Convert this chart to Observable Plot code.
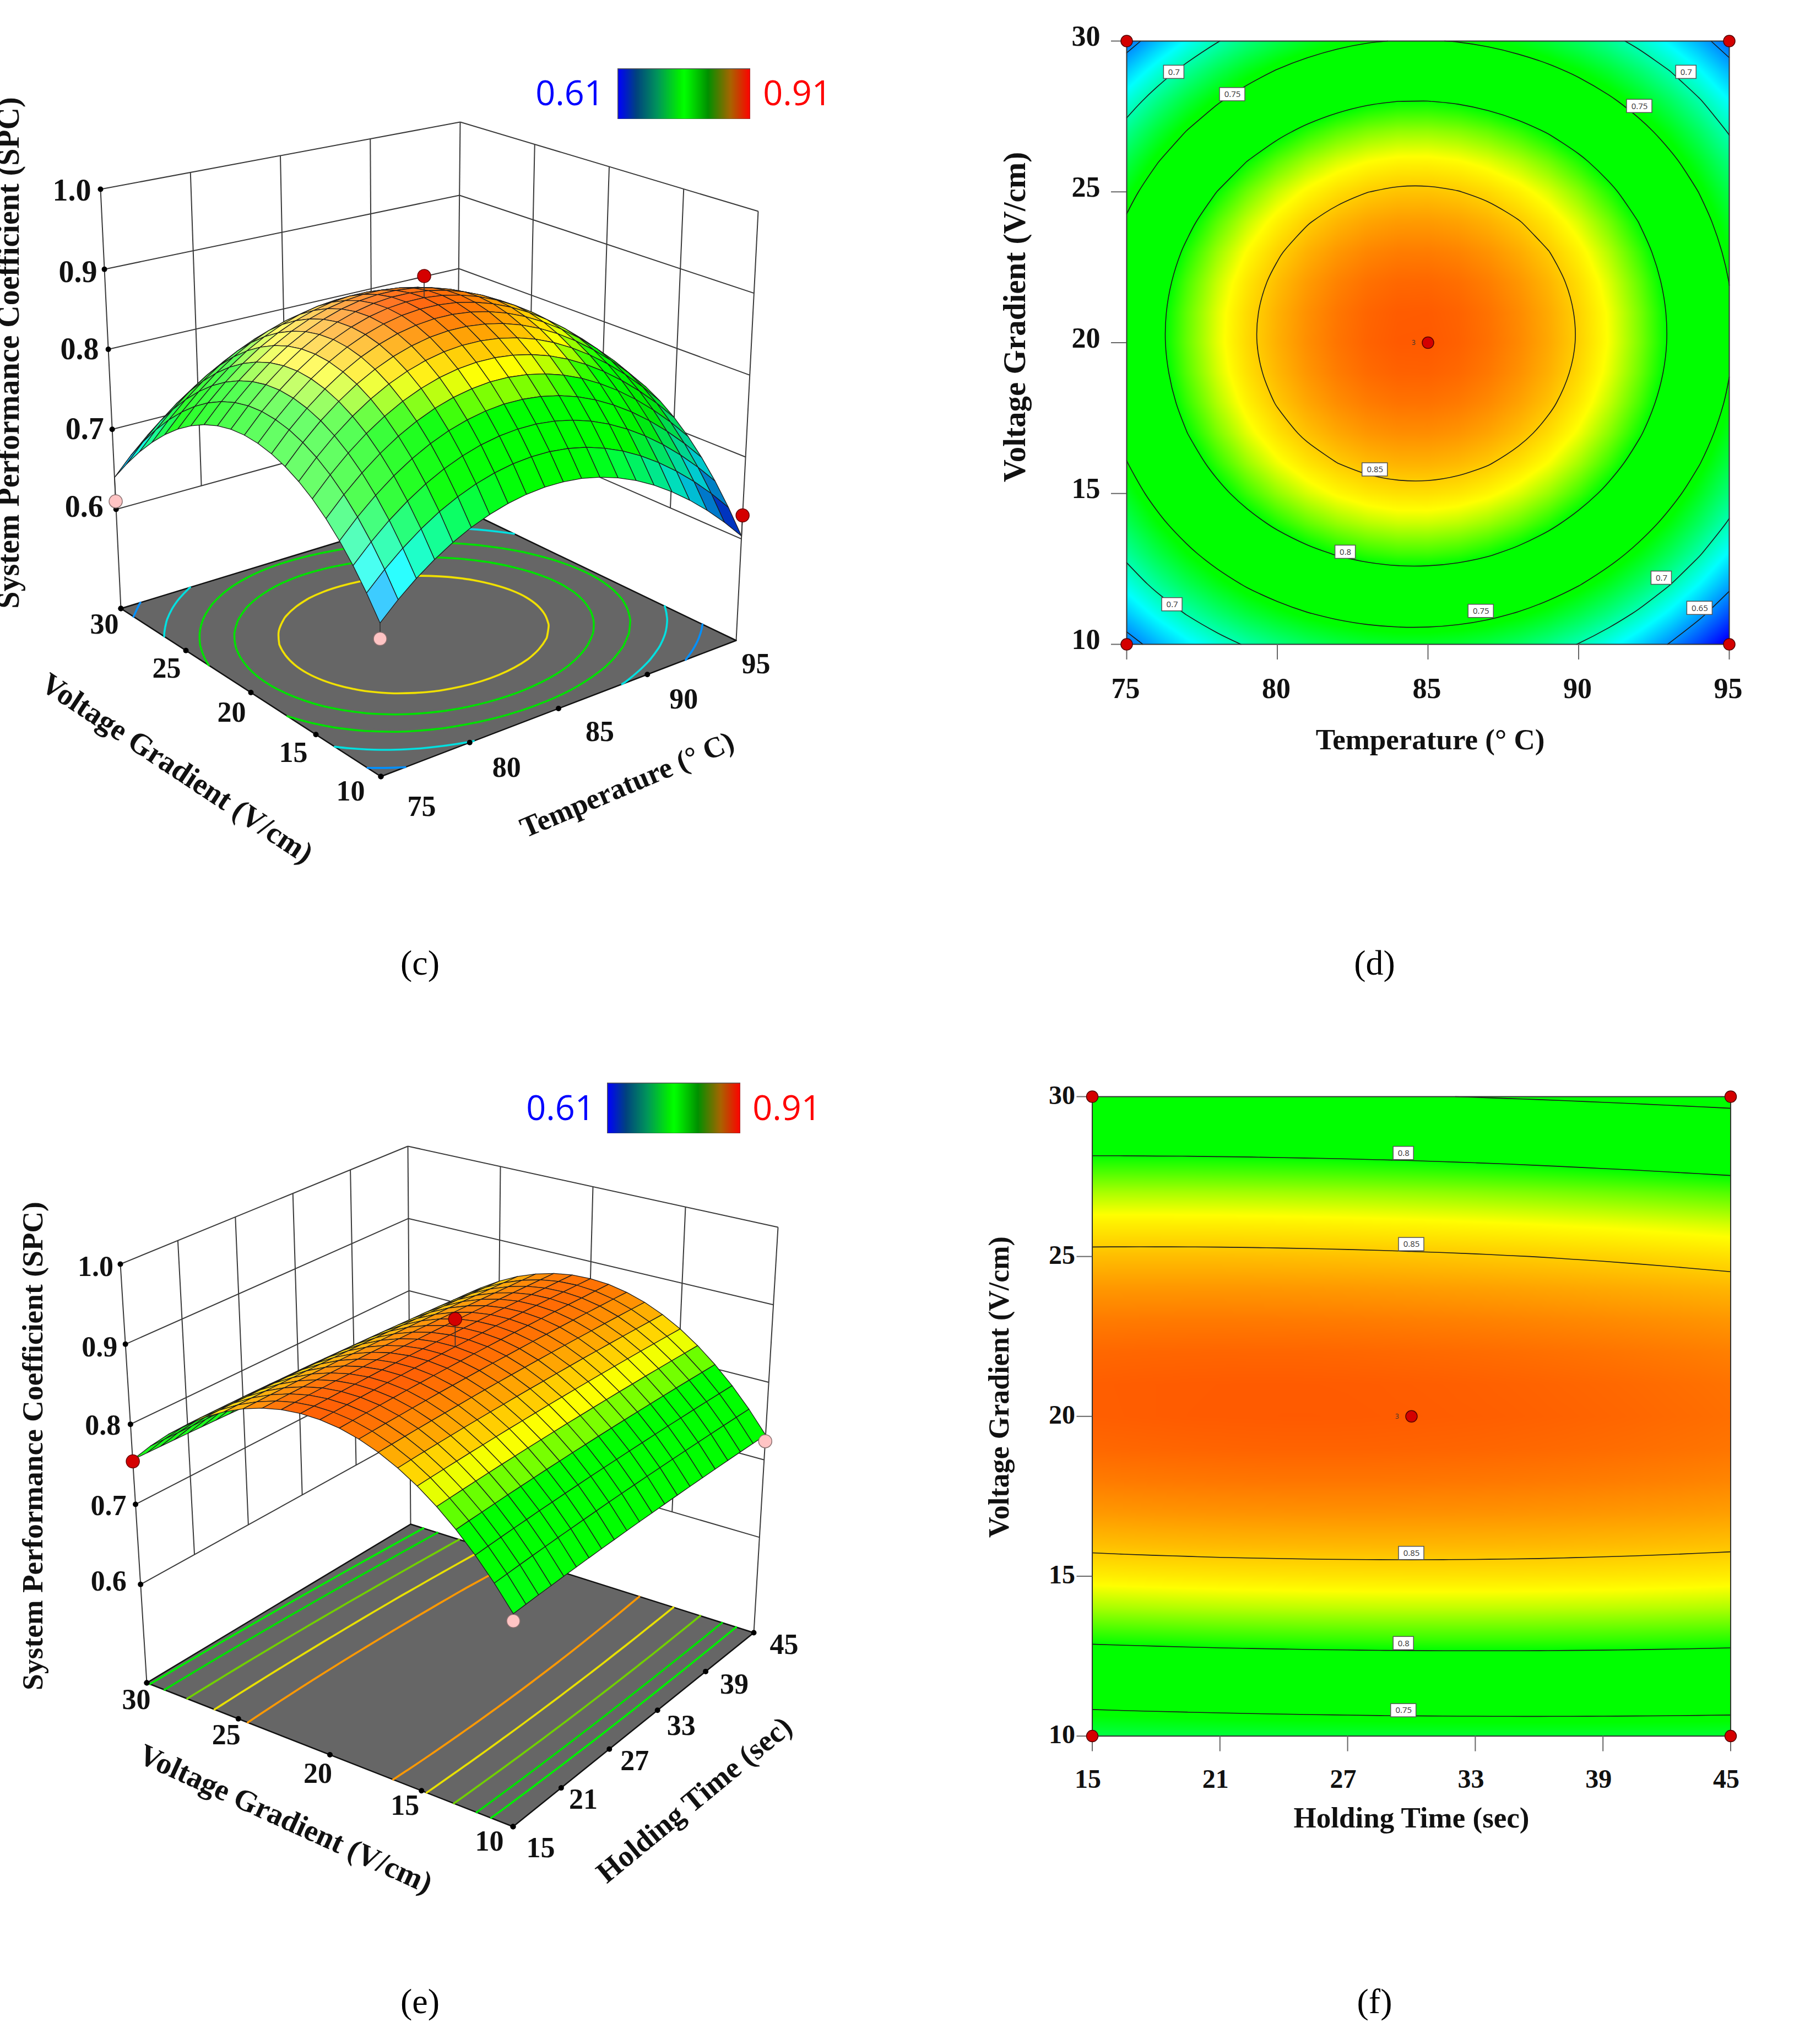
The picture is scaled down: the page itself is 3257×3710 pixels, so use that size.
<!DOCTYPE html>
<html><head><meta charset="utf-8">
<script src="https://cdn.jsdelivr.net/npm/d3@7"></script>
<script src="https://cdn.jsdelivr.net/npm/@observablehq/plot@0.6"></script>
<style>html,body{margin:0;background:#fff}#page{position:relative;width:3257px;height:3710px;overflow:hidden}.slot{position:absolute}</style>
</head><body><div id="page"></div>
<script>
// SPC, in units of 0.0001. Rows: voltage gradient 10..30 V/cm. Columns: temperature 75..95 C.
const spcTemperature = [
[6399,6587,6754,6900,7026,7131,7214,7277,7320,7342,7342,7320,7274,7204,7110,6991,6848,6681,6490,6275,6035],
[6643,6837,7009,7160,7291,7398,7485,7550,7595,7617,7618,7596,7550,7480,7386,7267,7124,6957,6766,6551,6311],
[6863,7062,7240,7395,7529,7640,7729,7797,7842,7866,7867,7845,7799,7729,7635,7516,7373,7206,7015,6800,6560],
[7057,7261,7443,7603,7740,7854,7945,8014,8061,8086,8087,8065,8019,7949,7855,7736,7593,7426,7235,7020,6780],
[7226,7435,7620,7783,7923,8039,8133,8204,8251,8277,8278,8256,8210,8140,8046,7927,7784,7617,7426,7211,6971],
[7372,7583,7772,7938,8080,8199,8294,8366,8415,8440,8442,8420,8374,8304,8210,8091,7948,7781,7590,7375,7135],
[7491,7706,7897,8065,8210,8330,8426,8499,8549,8575,8577,8555,8509,8439,8345,8226,8083,7916,7725,7510,7270],
[7586,7803,7997,8166,8313,8434,8531,8605,8656,8682,8684,8662,8616,8546,8452,8333,8190,8023,7832,7617,7377],
[7657,7876,8070,8241,8388,8511,8609,8684,8734,8761,8763,8741,8695,8625,8531,8412,8269,8102,7911,7696,7456],
[7703,7922,8118,8290,8438,8560,8659,8734,8785,8812,8814,8792,8746,8676,8582,8463,8320,8153,7962,7747,7507],
[7724,7944,8140,8312,8460,8583,8682,8757,8808,8835,8837,8815,8769,8699,8605,8486,8343,8176,7985,7770,7530],
[7718,7938,8134,8306,8454,8577,8676,8751,8802,8829,8831,8809,8763,8693,8599,8480,8338,8171,7980,7765,7526],
[7684,7904,8100,8272,8420,8543,8642,8717,8768,8795,8797,8775,8729,8660,8566,8448,8305,8139,7949,7736,7497],
[7622,7842,8038,8210,8358,8481,8580,8655,8706,8733,8735,8713,8668,8598,8505,8388,8247,8081,7893,7680,7443],
[7532,7752,7948,8120,8268,8391,8490,8565,8616,8643,8645,8623,8578,8509,8417,8301,8161,7997,7810,7600,7365],
[7414,7634,7830,8002,8150,8273,8372,8447,8498,8525,8527,8505,8461,8393,8302,8187,8048,7887,7702,7494,7263],
[7267,7487,7683,7855,8003,8126,8225,8300,8351,8378,8380,8359,8314,8248,8158,8044,7908,7749,7567,7363,7134],
[7092,7312,7508,7680,7828,7951,8050,8125,8176,8203,8205,8184,8140,8074,7986,7875,7741,7585,7406,7205,6981],
[6889,7109,7305,7477,7625,7748,7847,7922,7973,8000,8002,7981,7938,7874,7787,7678,7547,7394,7220,7023,6804],
[6658,6878,7074,7246,7394,7517,7616,7691,7742,7769,7771,7750,7709,7645,7561,7454,7327,7177,7007,6816,6602],
[6398,6618,6814,6986,7134,7257,7356,7431,7482,7509,7511,7491,7450,7388,7306,7203,7078,6933,6768,6582,6374]];
// Rows: voltage gradient 10..30 V/cm. Columns: holding time 15..45 s in steps of 1.5 s.
const spcHolding = [
[7265,7274,7282,7289,7296,7302,7308,7313,7317,7321,7324,7326,7328,7329,7330,7330,7329,7328,7326,7323,7320],
[7548,7557,7564,7571,7577,7583,7588,7592,7596,7600,7602,7604,7605,7606,7606,7605,7604,7602,7600,7597,7593],
[7802,7810,7817,7824,7829,7835,7839,7843,7846,7849,7851,7852,7853,7853,7853,7852,7850,7848,7845,7841,7837],
[8029,8036,8042,8048,8054,8058,8062,8066,8068,8071,8072,8073,8073,8073,8072,8070,8068,8065,8061,8057,8052],
[8227,8233,8239,8245,8250,8254,8257,8260,8262,8264,8265,8265,8265,8264,8263,8260,8258,8254,8250,8245,8240],
[8397,8403,8408,8413,8418,8421,8424,8427,8428,8429,8430,8430,8429,8428,8426,8423,8420,8416,8411,8406,8400],
[8538,8544,8549,8553,8557,8560,8562,8564,8565,8566,8566,8565,8564,8562,8560,8556,8552,8548,8543,8537,8531],
[8651,8656,8661,8665,8668,8670,8672,8674,8675,8675,8674,8673,8671,8669,8665,8662,8657,8652,8647,8641,8634],
[8736,8741,8745,8748,8751,8753,8755,8755,8755,8755,8754,8752,8750,8747,8743,8739,8734,8729,8723,8716,8708],
[8794,8798,8801,8804,8806,8808,8809,8809,8809,8808,8806,8804,8801,8797,8793,8788,8783,8777,8770,8763,8755],
[8822,8825,8828,8831,8832,8833,8834,8834,8833,8831,8829,8826,8823,8819,8814,8809,8803,8797,8789,8782,8773],
[8823,8826,8828,8830,8831,8832,8832,8831,8830,8828,8825,8822,8818,8813,8808,8802,8796,8789,8781,8773,8764],
[8795,8798,8800,8801,8802,8801,8801,8800,8798,8795,8792,8788,8784,8779,8773,8767,8760,8752,8744,8735,8726],
[8738,8740,8742,8743,8743,8742,8741,8739,8737,8734,8730,8726,8721,8715,8709,8702,8695,8687,8678,8669,8659],
[8655,8656,8657,8657,8657,8656,8654,8652,8649,8645,8641,8636,8631,8625,8618,8611,8603,8594,8585,8575,8565],
[8542,8543,8543,8543,8542,8540,8538,8535,8532,8528,8523,8518,8512,8505,8498,8490,8482,8473,8463,8452,8441],
[8401,8401,8401,8400,8399,8397,8394,8391,8387,8382,8377,8371,8365,8358,8350,8341,8333,8323,8313,8302,8290],
[8232,8232,8231,8230,8228,8225,8222,8218,8214,8209,8203,8197,8190,8182,8174,8165,8155,8145,8134,8123,8111],
[8034,8034,8032,8031,8028,8025,8021,8017,8012,8006,8000,7993,7986,7978,7969,7959,7949,7939,7927,7915,7903],
[7809,7808,7806,7804,7801,7798,7793,7788,7783,7777,7770,7763,7755,7746,7737,7727,7716,7705,7693,7681,7668],
[7556,7554,7552,7549,7545,7541,7536,7531,7525,7518,7511,7503,7495,7485,7476,7465,7454,7442,7430,7417,7404]];

const colorDomain = [0.61, 0.68, 0.745, 0.80, 0.835, 0.91];
const colorRange = ["#0000ff", "#00ffff", "#00ff00", "#00ff00", "#ffff00", "#ff0000"];
const legendStops = [0, 0.14, 0.30, 0.47, 0.50, 0.53, 0.68, 0.85, 1];
const legendColors = ["#0000ff", "#00427f", "#00965a", "#00f000", "#00ff00", "#00f000", "#009000", "#a86400", "#ff0000"];

const voltageTicks = [10, 15, 20, 25, 30];
const temperatureTicks = [75, 80, 85, 90, 95];
const holdingTicks = [15, 21, 27, 33, 39, 45];
const spcTicks = [0.6, 0.7, 0.8, 0.9, 1.0];

const contourLabelsD = [
  {x:76.57,y:28.97,t:"0.7"},{x:78.51,y:28.23,t:"0.75"},{x:93.57,y:28.97,t:"0.7"},{x:92.02,y:27.84,t:"0.75"},
  {x:83.24,y:15.79,t:"0.85"},{x:82.26,y:13.06,t:"0.8"},{x:92.75,y:12.2,t:"0.7"},{x:94.02,y:11.2,t:"0.65"},
  {x:86.76,y:11.1,t:"0.75"},{x:76.51,y:11.32,t:"0.7"}];
const contourLabelsF = [
  {x:29.63,y:28.23,t:"0.8"},{x:30,y:25.38,t:"0.85"},{x:30,y:15.72,t:"0.85"},{x:29.63,y:12.9,t:"0.8"},{x:29.63,y:10.8,t:"0.75"}];

const serif = "Liberation Serif";
const colorOptions = {type:"linear", domain:colorDomain, range:colorRange, interpolate:"rgb"};
const colorScale = Plot.scale({color:colorOptions});
const page = document.getElementById("page");
function place(svg, left, top){const d=document.createElement("div");d.className="slot";d.style.left=left+"px";d.style.top=top+"px";d.appendChild(svg);page.appendChild(d);}

function contourRuns(table, thresholds){
  const n = table.length, out = [];
  const contours = d3.contours().size([n,n]).thresholds(thresholds).smooth(true)(table.flat().map(v=>v/1e4));
  let run = 0;
  const e = 1e-9;
  const outside = p => p[0]<.5-e||p[0]>n-.5+e||p[1]<.5-e||p[1]>n-.5+e;
  const emit = (p,value)=>{out.push({u:(p[0]-.5)/(n-1),v:(p[1]-.5)/(n-1),value,run});};
  for(const c of contours) for(const poly of c.coordinates) for(const ringRaw of poly){
    let ring = ringRaw.slice(0,-1);
    const s = ring.findIndex(outside);
    if(s<0){ for(const p of ringRaw) emit(p,c.value); run++; continue; }
    ring = ring.slice(s).concat(ring.slice(0,s));
    let current = [];
    for(let i=0;i<=ring.length;i++){
      const p = ring[i%ring.length];
      if(outside(p)){
        if(current.length>1){ current.forEach(q=>emit(q,c.value)); run++; }
        current=[];
      } else current.push(p);
    }
  }
  return out;
}

// box view: the eight box corners, blended along the three axes
function boxView(corners, xr, yr, zr){
  const mix=(a,b,t)=>[a[0]+(b[0]-a[0])*t,a[1]+(b[1]-a[1])*t];
  return (x,y,z)=>{
    const u=(x-xr[0])/(xr[1]-xr[0]),v=(y-yr[0])/(yr[1]-yr[0]),w=(z-zr[0])/(zr[1]-zr[0]);
    const level=k=>mix(mix(corners[k][0],corners[k][1],u),mix(corners[k][3],corners[k][2],u),v);
    return mix(level(0),level(1),w);
  };
}

function surfacePanel(cfg){
  const {table,xTicks,xr,yr,floorZ} = cfg;
  const n=table.length;
  const P=boxView(cfg.corners,xr,yr,[floorZ,1]);
  const xAt=i=>xr[0]+(xr[1]-xr[0])*i/(n-1), yAt=j=>yr[0]+(yr[1]-yr[0])*j/(n-1);
  const zAt=(x,y)=>table[Math.round((y-yr[0])/(yr[1]-yr[0])*(n-1))][Math.round((x-xr[0])/(xr[1]-xr[0])*(n-1))]/1e4;
  const quads=[];let q=0;
  for(let i=n-2;i>=0;i--)for(let j=n-2;j>=0;j--){
    const a=table[j][i]/1e4,b=table[j][i+1]/1e4,c=table[j+1][i+1]/1e4,d=table[j+1][i]/1e4;
    const gu=((b+c)-(a+d))/2*(n-1)/2, gv=((c+d)-(a+b))/2*(n-1)/2;
    const s=.7*gu-.35*gv;
    const white=cfg.gloss*Math.exp(-Math.pow((s-.115)/.09,2));
    const black=Math.max(0,-s-.16)*2.4;
    let col=colorScale.apply((a+b+c+d)/4);
    col=d3.interpolateRgb(col,"#ffffff")(white);
    col=d3.interpolateRgb(col,"#000000")(Math.min(.5,black));
    for(const [ii,jj,z] of [[i,j,a],[i+1,j,b],[i+1,j+1,c],[i,j+1,d],[i,j,a]]){
      const p=P(xAt(ii),yAt(jj),z);quads.push({px:p[0],py:p[1],q,col});
    }
    q++;
  }
  const seg=(a,b)=>{const p=P(...a),r=P(...b);return {x1:p[0],y1:p[1],x2:r[0],y2:r[1]};};
  const [x0,x1]=xr,[y0,y1]=yr;
  const midX=xTicks.filter(t=>t!==x0&&t!==x1), midY=voltageTicks.filter(t=>t!==y0&&t!==y1);
  const walls=[
    ...spcTicks.flatMap(z=>[seg([x0,y1,z],[x1,y1,z]),seg([x1,y1,z],[x1,y0,z])]),
    ...midX.map(x=>seg([x,y1,1],[x,y1,.6])),
    ...midY.map(y=>seg([x1,y,1],[x1,y,.6])),
    seg([x0,y1,1],[x0,y1,floorZ]),seg([x1,y1,1],[x1,y1,floorZ]),seg([x1,y0,1],[x1,y0,floorZ])];
  const floor=[[x0,y0],[x1,y0],[x1,y1],[x0,y1],[x0,y0]].map(([a,b])=>{const p=P(a,b,floorZ);return {px:p[0],py:p[1]};});
  const floorLines=contourRuns(table,cfg.floorLevels).map(d=>{
    const p=P(x0+d.u*(x1-x0),y0+d.v*(y1-y0),floorZ);
    return {px:p[0],py:p[1],run:d.run,col:cfg.floorColors[cfg.floorLevels.indexOf(d.value)]};});
  const dots=[
    ...spcTicks.map(z=>P(x0,y1,z)),P(x0,y1,floorZ),
    ...voltageTicks.map(v=>P(x0,v,floorZ)),
    ...cfg.xDots.map(t=>P(t,y0,floorZ))].map(p=>({px:p[0],py:p[1]}));
  const tick=(p,o,t)=>({px:p[0]+o[0],py:p[1]+o[1],t});
  const zLabels=spcTicks.map((z,i)=>tick(P(x0,y1,z),cfg.zOff[i],z.toFixed(1)));
  const labels=[
    ...voltageTicks.map((v,i)=>tick(P(x0,v,floorZ),cfg.vOff[i],String(v))),
    ...xTicks.map((t,i)=>tick(P(t,y0,floorZ),cfg.xOff[i],String(t)))];
  const pts=cfg.points.map(d=>{const p=P(d.x,d.y,d.z),s=P(d.x,d.y,zAt(d.x,d.y));return {px:p[0],py:p[1],sx:s[0],sy:s[1],fill:d.fill,stroke:d.stroke};});
  const W=3257,H=cfg.h,T=cfg.top;
  const titles=cfg.titles.map(d=>Plot.text([d],{x:"x",y:"y",text:"t",rotate:d.r,fontFamily:serif,fontWeight:"bold",fontSize:d.s,textAnchor:"middle",lineAnchor:"middle",fill:"#111"}));
  return Plot.plot({width:W,height:H,margin:0,style:{background:"transparent"},
    x:{domain:[0,W],range:[0,W],axis:null},y:{domain:[T,T+H],range:[0,H],axis:null},
    marks:[
      Plot.link(walls,{x1:"x1",y1:"y1",x2:"x2",y2:"y2",stroke:"#3a3a3a",strokeWidth:2}),
      Plot.line(floor,{x:"px",y:"py",fill:"#666666",stroke:"#111",strokeWidth:2.5}),
      Plot.line(floorLines,{x:"px",y:"py",z:"run",stroke:"col",strokeWidth:3.6,curve:"catmull-rom"}),
      Plot.dot(dots,{x:"px",y:"py",r:5,fill:"#000"}),
      Plot.line(quads,{x:"px",y:"py",z:"q",fill:"col",stroke:"#1c1c1c",strokeWidth:1.3}),
      Plot.link(pts,{x1:"px",y1:"py",x2:"sx",y2:"sy",stroke:"#333",strokeWidth:1.6}),
      Plot.dot(pts,{x:"px",y:"py",r:12,fill:"fill",stroke:"stroke",strokeWidth:1.5}),
      Plot.text(labels,{x:"px",y:"py",text:"t",fontFamily:serif,fontWeight:"bold",fontSize:cfg.tickSize,textAnchor:"middle",lineAnchor:"middle",fill:"#111"}),
      Plot.text(zLabels,{x:"px",y:"py",text:"t",fontFamily:serif,fontWeight:"bold",fontSize:cfg.zSize,textAnchor:"middle",lineAnchor:"middle",fill:"#111"}),
      ...titles,
      Plot.text([cfg.caption[0]],{x:"x",y:"y",text:"t",fontFamily:serif,fontSize:64,textAnchor:"middle",lineAnchor:"middle",fill:"#000"}),
      Plot.text([cfg.caption[1]],{x:"x",y:"y",text:"t",fontFamily:serif,fontSize:64,textAnchor:"middle",lineAnchor:"middle",fill:"#000"}),
      Plot.text([cfg.legendLow],{x:"x",y:"y",text:"t",fontFamily:"Open Sans",fontSize:63,textAnchor:"middle",lineAnchor:"middle",fill:"#0000ff"}),
      Plot.text([cfg.legendHigh],{x:"x",y:"y",text:"t",fontFamily:"Open Sans",fontSize:63,textAnchor:"middle",lineAnchor:"middle",fill:"#ff0000"})
    ]});
}

function legendBar(w,h){
  return Plot.plot({width:w,height:h,margin:0,x:{domain:[0,1],axis:null},y:{domain:[0,1],axis:null},
    color:{type:"linear",domain:legendStops,range:legendColors,interpolate:"rgb"},
    marks:[Plot.raster({fill:(x,y)=>x,x1:0,x2:1,y1:0,y2:1,width:w,height:1}),Plot.frame({stroke:"#555",strokeWidth:2})]});
}

function contourPanel(cfg){
  const {table,xr,yr}=cfg,n=table.length;
  const grid=table.flatMap((row,j)=>row.map((z,i)=>({x:xr[0]+(xr[1]-xr[0])*i/(n-1),y:yr[0]+(yr[1]-yr[0])*j/(n-1),z:z/1e4})));
  const runs=contourRuns(table,cfg.levels).map(d=>({x:xr[0]+d.u*(xr[1]-xr[0]),y:yr[0]+d.v*(yr[1]-yr[0]),run:d.run}));
  const innerW=cfg.width-cfg.ml-cfg.mr,innerH=cfg.height-cfg.mt-cfg.mb;
  const ux=(xr[1]-xr[0])/innerW,uy=(yr[1]-yr[0])/innerH;
  const boxW=t=>(t.length>3?46:37)/2*ux,boxH=12*uy;
  const corners=[[xr[0],yr[0]],[xr[1],yr[0]],[xr[0],yr[1]],[xr[1],yr[1]],cfg.center].map(([x,y])=>({x,y}));
  const textStyle={fontFamily:serif,fontWeight:"bold",fontSize:cfg.tickSize,tickSize:0,stroke:null,label:null,tickFormat:d=>String(d),color:"#111"};
  const tickStyle={tickSize:28,stroke:"#666",strokeWidth:2,label:null,tickFormat:()=>""};
  return Plot.plot({width:cfg.width,height:cfg.height,marginLeft:cfg.ml,marginRight:cfg.mr,marginTop:cfg.mt,marginBottom:cfg.mb,
    style:{background:"transparent"},
    x:{domain:xr},y:{domain:yr},color:colorOptions,
    marks:[
      Plot.raster(grid,{x:"x",y:"y",fill:"z",interpolate:"barycentric",pixelSize:1}),
      Plot.line(runs,{x:"x",y:"y",z:"run",stroke:"#1a1a1a",strokeWidth:1.6,curve:"catmull-rom"}),
      Plot.frame({stroke:"#333",strokeWidth:2}),
      Plot.rect(cfg.labels,{x1:d=>d.x-boxW(d.t),x2:d=>d.x+boxW(d.t),y1:d=>d.y-boxH,y2:d=>d.y+boxH,fill:"#fff",stroke:"#555",strokeWidth:1.5}),
      Plot.text(cfg.labels,{x:"x",y:"y",text:"t",fontFamily:"Open Sans",fontSize:15,fill:"#333",lineAnchor:"middle"}),
      Plot.axisX({...tickStyle,ticks:cfg.xTicks}),
      Plot.axisY({...tickStyle,ticks:voltageTicks}),
      Plot.axisX({...textStyle,ticks:cfg.xTicks,tickPadding:cfg.xPad,dx:cfg.xDx}),
      Plot.axisY({...textStyle,ticks:voltageTicks,tickPadding:cfg.yPad,dy:cfg.yDy}),
      Plot.dot(corners,{x:"x",y:"y",r:10.5,fill:"#d40000",stroke:"#500",strokeWidth:1.5}),
      Plot.text([cfg.center],{x:d=>d[0],y:d=>d[1],text:()=>"3",dx:-26,fontFamily:"Open Sans",fontSize:12,fill:"#333"})
    ]});
}

const redPoint={fill:"#d40000",stroke:"#6a0000"}, pinkPoint={fill:"#ffc4c4",stroke:"#8a7070"};

place(surfacePanel({table:spcTemperature,xTicks:temperatureTicks,xDots:[75,80,85,90],xr:[75,95],yr:[10,30],floorZ:.476,top:0,h:1850,tickSize:52,zSize:56,gloss:.42,
  corners:[[[691,1409],[1336,1162],[828,918],[219,1104]],[[686,518],[1376,383],[835,221],[182,343]]],
  floorLevels:[.665,.715,.76,.7975,.835],floorColors:["#0090ff","#00e0e0","#00e000","#00e000","#f0e000"],
  zOff:[[-58,-4],[-50,0],[-52,0],[-48,5],[-52,3]],vOff:[[-55,27],[-41,33],[-35,36],[-35,33],[-30,29]],xOff:[[74,55],[67,46],[75,42],[66,45],[36,43]],
  points:[{x:75,y:30,z:.61,...pinkPoint},{x:75,y:10,z:.623,...pinkPoint},{x:95,y:10,z:.6287,...redPoint},{x:85,y:20,z:.91,...redPoint}],
  titles:[{x:321,y:1394,t:"Voltage Gradient (V/cm)",r:33.5,s:55},{x:1138,y:1424,t:"Temperature (° C)",r:-23,s:53},{x:16,y:640,t:"System Performance Coefficient (SPC)",r:-90,s:56},
          {x:2596,y:1343,t:"Temperature (° C)",r:0,s:53},{x:1842,y:575,t:"Voltage Gradient (V/cm)",r:-90,s:57}],
  caption:[{x:762,y:1748,t:"(c)"},{x:2495,y:1748,t:"(d)"}],legendLow:{x:1034,y:170,t:"0.61"},legendHigh:{x:1447,y:170,t:"0.91"}}),0,0);

place(surfacePanel({table:spcHolding,xTicks:holdingTicks,xDots:holdingTicks,xr:[15,45],yr:[10,30],floorZ:.477,top:1850,h:1860,tickSize:52,zSize:52,gloss:.12,
  corners:[[[931,3315],[1368,2963],[745,2766],[266,3054]],[[932,2505],[1412,2227],[740,2080],[218,2294]]],
  floorLevels:[.76,.78,.8075,.835,.86],floorColors:["#00ee00","#00e000","#70d000","#e8e000","#ff9900"],
  zOff:[[-58,-5],[-49,3],[-50,2],[-47,6],[-45,5]],vOff:[[-43,27],[-30,27],[-22,34],[-22,30],[-19,31]],xOff:[[50,39],[40,21],[46,22],[43,28],[52,23],[55,22]],
  points:[{x:15,y:30,z:.7536,...redPoint},{x:15,y:10,z:.718,...pinkPoint},{x:45,y:10,z:.724,...pinkPoint},{x:30,y:20,z:.918,...redPoint}],
  titles:[{x:518,y:3301,t:"Voltage Gradient (V/cm)",r:24.5,s:55},{x:1260,y:3266,t:"Holding Time (sec)",r:-39.4,s:54.5},{x:59,y:2624,t:"System Performance Coefficient (SPC)",r:-90,s:53.5},
          {x:2562,y:3300,t:"Holding Time (sec)",r:0,s:53},{x:1814,y:2517,t:"Voltage Gradient (V/cm)",r:-90,s:52}],
  caption:[{x:762,y:3633,t:"(e)"},{x:2495,y:3633,t:"(f)"}],legendLow:{x:1017,y:2012,t:"0.61"},legendHigh:{x:1428,y:2012,t:"0.91"}}),0,1850);

place(legendBar(241,92),1121,124);
place(legendBar(242,92),1102,1965);

place(contourPanel({table:spcTemperature,xr:[75,95],yr:[10,30],levels:[.65,.7,.75,.8,.85],labels:contourLabelsD,center:[85,20],xTicks:temperatureTicks,
  width:1477,height:1450,ml:265,mr:118,mt:74,mb:281,tickSize:52,xPad:61,yPad:48,xDx:-2,yDy:-8}),1780,0);
place(contourPanel({table:spcHolding,xr:[15,45],yr:[10,30],levels:[.75,.8,.85],labels:contourLabelsF,center:[30,20],xTicks:holdingTicks,
  width:1497,height:1450,ml:222.5,mr:115.5,mt:60,mb:229.4,tickSize:48,xPad:60,yPad:31,xDx:-8,yDy:-2}),1760,1930);
</script></body></html>
